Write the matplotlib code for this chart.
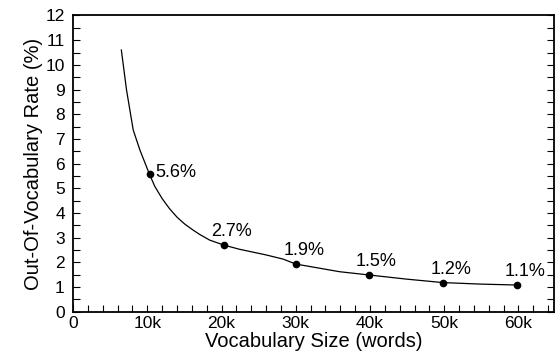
# OOV rate vs vocabulary size

import matplotlib
matplotlib.use('Agg')
import matplotlib.pyplot as plt
from matplotlib.ticker import MultipleLocator, FuncFormatter

plt.rcParams['font.family'] = ['Liberation Sans', 'DejaVu Sans']

# curve (vocab size in k words, OOV %)
curve_k = [6.5, 7.2, 8.1, 9.0, 10.3, 11.0, 12.0, 13.0, 14.0, 15.0, 16.0,
           17.0, 18.4, 20.3, 22.4, 26.0, 28.3, 30.0, 35.9, 39.8, 44.9,
           49.8, 54.7, 59.8]
curve_oov = [10.6, 8.98, 7.36, 6.55, 5.56, 5.08, 4.58, 4.17, 3.83, 3.56, 3.34,
             3.14, 2.90, 2.70, 2.53, 2.30, 2.13, 1.93, 1.62, 1.49, 1.32,
             1.18, 1.12, 1.08]

# marked points
point_k = [10.3, 20.3, 30.0, 39.8, 49.8, 59.8]
point_oov = [5.56, 2.70, 1.93, 1.49, 1.18, 1.08]
point_labels = ['5.6%', '2.7%', '1.9%', '1.5%', '1.2%', '1.1%']

fig = plt.figure(figsize=(5.58, 3.52), dpi=100)
ax = fig.add_axes([0.131, 0.1145, 0.862, 0.8415])

ax.plot(curve_k, curve_oov, color='black', lw=0.9)
ax.plot(point_k, point_oov, 'o', color='black', ms=4.5)

for i, (x, y, s) in enumerate(zip(point_k, point_oov, point_labels)):
    if i == 0:
        ax.annotate(s, (x, y), xytext=(6, 2), textcoords='offset pixels',
                    ha='left', va='center', fontsize=13)
    else:
        ax.annotate(s, (x, y), xytext=(8, 5), textcoords='offset pixels',
                    ha='center', va='bottom', fontsize=13)

ax.set_xlim(0, 64.8)
ax.set_ylim(0, 12)
ax.xaxis.set_major_locator(MultipleLocator(10))
ax.xaxis.set_minor_locator(MultipleLocator(2))
ax.yaxis.set_major_locator(MultipleLocator(1))
ax.yaxis.set_minor_locator(MultipleLocator(0.5))
ax.xaxis.set_major_formatter(FuncFormatter(lambda v, p: '0' if v == 0 else '%dk' % v))

ax.tick_params(which='both', direction='in', length=5, width=0.8,
               top=False, right=True, labelsize=12.5)
ax.tick_params(axis='x', pad=3)
ax.tick_params(axis='y', pad=6)
for sp in ax.spines.values():
    sp.set_linewidth(1.3)

ax.set_xlabel('Vocabulary Size (words)', fontsize=14.5, labelpad=1)
ax.set_ylabel('Out-Of-Vocabulary Rate (%)', fontsize=14.5, labelpad=2)

fig.savefig('out.png', dpi=100)
